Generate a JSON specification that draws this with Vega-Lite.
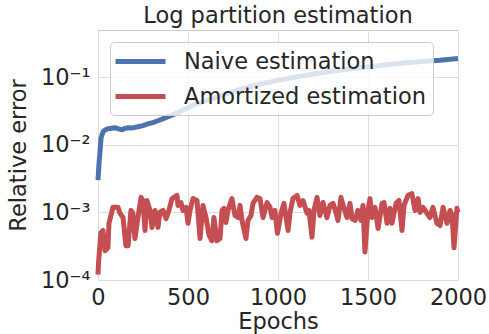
{
  "$schema": "https://vega.github.io/schema/vega-lite/v6.json",
  "width": 360,
  "height": 250,
  "autosize": {"type": "none"},
  "padding": {"left": 98, "top": 30, "right": 31, "bottom": 54},
  "background": "white",
  "title": {"text": "Log partition estimation", "fontSize": 22.5, "fontWeight": "normal", "color": "#262626", "font": "DejaVu Sans", "offset": 3},
  "datasets": {
    "naive": [
      {"epoch": 0, "value": 0.003}, {"epoch": 5, "value": 0.005}, {"epoch": 11, "value": 0.0079}, {"epoch": 17, "value": 0.0127},
      {"epoch": 28, "value": 0.0156}, {"epoch": 40, "value": 0.0166}, {"epoch": 55, "value": 0.0173}, {"epoch": 75, "value": 0.0176},
      {"epoch": 94, "value": 0.0179}, {"epoch": 115, "value": 0.0172}, {"epoch": 133, "value": 0.0167}, {"epoch": 150, "value": 0.0175},
      {"epoch": 167, "value": 0.0179}, {"epoch": 190, "value": 0.0178}, {"epoch": 222, "value": 0.0185}, {"epoch": 250, "value": 0.0192},
      {"epoch": 278, "value": 0.0205}, {"epoch": 305, "value": 0.0213}, {"epoch": 333, "value": 0.0227}, {"epoch": 360, "value": 0.0242},
      {"epoch": 389, "value": 0.026}, {"epoch": 444, "value": 0.03}, {"epoch": 528, "value": 0.0385}, {"epoch": 600, "value": 0.045},
      {"epoch": 717, "value": 0.057}, {"epoch": 800, "value": 0.067}, {"epoch": 900, "value": 0.079}, {"epoch": 1000, "value": 0.09},
      {"epoch": 1122, "value": 0.103}, {"epoch": 1178, "value": 0.11}, {"epoch": 1300, "value": 0.123}, {"epoch": 1400, "value": 0.133},
      {"epoch": 1494, "value": 0.142}, {"epoch": 1600, "value": 0.153}, {"epoch": 1700, "value": 0.163}, {"epoch": 1800, "value": 0.171},
      {"epoch": 1900, "value": 0.179}, {"epoch": 2000, "value": 0.19}
    ],
    "amortized": [
      {"epoch": 0, "value": 0.00012}, {"epoch": 3, "value": 0.00018}, {"epoch": 16, "value": 0.0005}, {"epoch": 28, "value": 0.00054},
      {"epoch": 39, "value": 0.00027}, {"epoch": 55, "value": 0.0003}, {"epoch": 61, "value": 0.00069}, {"epoch": 83, "value": 0.00119},
      {"epoch": 111, "value": 0.00119}, {"epoch": 122, "value": 0.00097}, {"epoch": 139, "value": 0.00084}, {"epoch": 155, "value": 0.00032},
      {"epoch": 167, "value": 0.00032}, {"epoch": 183, "value": 0.00107}, {"epoch": 194, "value": 0.00097}, {"epoch": 205, "value": 0.00041},
      {"epoch": 222, "value": 0.00084}, {"epoch": 239, "value": 0.00167}, {"epoch": 250, "value": 0.0015}, {"epoch": 261, "value": 0.00054},
      {"epoch": 272, "value": 0.0015}, {"epoch": 289, "value": 0.00107}, {"epoch": 300, "value": 0.0006}, {"epoch": 317, "value": 0.00107},
      {"epoch": 333, "value": 0.0006}, {"epoch": 344, "value": 0.001}, {"epoch": 361, "value": 0.00107}, {"epoch": 378, "value": 0.00081},
      {"epoch": 394, "value": 0.00107}, {"epoch": 411, "value": 0.0016}, {"epoch": 439, "value": 0.00178}, {"epoch": 444, "value": 0.00127},
      {"epoch": 461, "value": 0.0014}, {"epoch": 472, "value": 0.00107}, {"epoch": 489, "value": 0.00119}, {"epoch": 500, "value": 0.00069},
      {"epoch": 511, "value": 0.00107}, {"epoch": 528, "value": 0.0016}, {"epoch": 550, "value": 0.0015}, {"epoch": 567, "value": 0.00041},
      {"epoch": 583, "value": 0.00127}, {"epoch": 600, "value": 0.00084}, {"epoch": 617, "value": 0.00046}, {"epoch": 633, "value": 0.00038},
      {"epoch": 644, "value": 0.00084}, {"epoch": 661, "value": 0.00038}, {"epoch": 678, "value": 0.00041}, {"epoch": 689, "value": 0.00107},
      {"epoch": 700, "value": 0.00115}, {"epoch": 711, "value": 0.00071}, {"epoch": 722, "value": 0.00107}, {"epoch": 744, "value": 0.0016},
      {"epoch": 761, "value": 0.0009}, {"epoch": 778, "value": 0.00084}, {"epoch": 789, "value": 0.00127}, {"epoch": 800, "value": 0.00076},
      {"epoch": 822, "value": 0.00041}, {"epoch": 833, "value": 0.00076}, {"epoch": 850, "value": 0.0009}, {"epoch": 861, "value": 0.00136},
      {"epoch": 883, "value": 0.00167}, {"epoch": 900, "value": 0.0016}, {"epoch": 917, "value": 0.00084}, {"epoch": 939, "value": 0.0014},
      {"epoch": 956, "value": 0.00119}, {"epoch": 967, "value": 0.00084}, {"epoch": 983, "value": 0.00107}, {"epoch": 997, "value": 0.00049},
      {"epoch": 1017, "value": 0.00097}, {"epoch": 1033, "value": 0.00136}, {"epoch": 1056, "value": 0.00054}, {"epoch": 1067, "value": 0.001},
      {"epoch": 1083, "value": 0.0016}, {"epoch": 1106, "value": 0.00178}, {"epoch": 1122, "value": 0.00127}, {"epoch": 1139, "value": 0.0015},
      {"epoch": 1161, "value": 0.00097}, {"epoch": 1172, "value": 0.00107}, {"epoch": 1189, "value": 0.00043}, {"epoch": 1200, "value": 0.00107},
      {"epoch": 1217, "value": 0.00167}, {"epoch": 1233, "value": 0.0009}, {"epoch": 1250, "value": 0.0014}, {"epoch": 1272, "value": 0.00084},
      {"epoch": 1289, "value": 0.00127}, {"epoch": 1306, "value": 0.00136}, {"epoch": 1322, "value": 0.001}, {"epoch": 1333, "value": 0.00076},
      {"epoch": 1350, "value": 0.00167}, {"epoch": 1367, "value": 0.00115}, {"epoch": 1383, "value": 0.00084}, {"epoch": 1400, "value": 0.00136},
      {"epoch": 1411, "value": 0.00081}, {"epoch": 1428, "value": 0.00076}, {"epoch": 1444, "value": 0.00107}, {"epoch": 1461, "value": 0.00076},
      {"epoch": 1472, "value": 0.00127}, {"epoch": 1483, "value": 0.00026}, {"epoch": 1500, "value": 0.00107}, {"epoch": 1511, "value": 0.0016},
      {"epoch": 1522, "value": 0.00084}, {"epoch": 1539, "value": 0.00119}, {"epoch": 1556, "value": 0.00058}, {"epoch": 1578, "value": 0.00136},
      {"epoch": 1589, "value": 0.0014}, {"epoch": 1606, "value": 0.00069}, {"epoch": 1622, "value": 0.00115}, {"epoch": 1633, "value": 0.00069},
      {"epoch": 1656, "value": 0.00136}, {"epoch": 1672, "value": 0.0015}, {"epoch": 1689, "value": 0.00054}, {"epoch": 1700, "value": 0.00127},
      {"epoch": 1722, "value": 0.00178}, {"epoch": 1744, "value": 0.0019}, {"epoch": 1761, "value": 0.00107}, {"epoch": 1778, "value": 0.0016},
      {"epoch": 1789, "value": 0.001}, {"epoch": 1806, "value": 0.00119}, {"epoch": 1828, "value": 0.00097}, {"epoch": 1844, "value": 0.00084},
      {"epoch": 1861, "value": 0.00119}, {"epoch": 1883, "value": 0.00069}, {"epoch": 1900, "value": 0.00064}, {"epoch": 1917, "value": 0.00119},
      {"epoch": 1939, "value": 0.00069}, {"epoch": 1956, "value": 0.00107}, {"epoch": 1967, "value": 0.0009}, {"epoch": 1978, "value": 0.0003},
      {"epoch": 1994, "value": 0.00115}, {"epoch": 2000, "value": 0.001}
    ]
  },
  "layer": [
    {
      "data": {"name": "naive"},
      "mark": {"type": "line", "strokeWidth": 5, "strokeJoin": "round", "strokeCap": "butt"},
      "encoding": {
        "x": {"field": "epoch", "type": "quantitative"},
        "y": {"field": "value", "type": "quantitative"},
        "color": {"datum": "Naive estimation"}
      }
    },
    {
      "data": {"name": "amortized"},
      "mark": {"type": "line", "strokeWidth": 5, "strokeJoin": "round", "strokeCap": "butt"},
      "encoding": {
        "x": {"field": "epoch", "type": "quantitative"},
        "y": {"field": "value", "type": "quantitative"},
        "color": {"datum": "Amortized estimation"}
      }
    }
  ],
  "resolve": {"scale": {"x": "shared", "y": "shared", "color": "shared"}},
  "encoding": {
    "x": {
      "field": "epoch", "type": "quantitative", "title": "Epochs",
      "scale": {"domain": [0, 2000], "nice": false, "zero": false},
      "axis": {"values": [0, 500, 1000, 1500, 2000], "format": "d", "labelPadding": 6, "titlePadding": 2, "labelFlush": false}
    },
    "y": {
      "field": "value", "type": "quantitative", "title": "Relative error",
      "scale": {"type": "log", "domain": [0.0001, 0.5], "nice": false},
      "axis": {
        "values": [0.0001, 0.001, 0.01, 0.1],
        "labelExpr": "datum.value < 0.0005 ? '10⁻⁴' : datum.value < 0.005 ? '10⁻³' : datum.value < 0.05 ? '10⁻²' : '10⁻¹'",
        "labelPadding": 8, "titlePadding": 10, "labelFlush": false
      }
    },
    "color": {
      "type": "nominal",
      "scale": {"domain": ["Naive estimation", "Amortized estimation"], "range": ["#4C72B0", "#C44E52"]},
      "legend": {
        "title": null, "orient": "top-left", "offset": 12,
        "fillColor": "rgba(255,255,255,0.8)", "strokeColor": "#cccccc", "cornerRadius": 4,
        "padding": 7, "symbolType": "M-2.5,0H2.5", "symbolSize": 400, "symbolStrokeWidth": 5, "symbolOffset": 11,
        "labelFontSize": 22.5, "labelColor": "#262626", "labelOffset": 31, "rowPadding": 11,
        "labelFont": "DejaVu Sans", "labelLimit": 400
      }
    }
  },
  "config": {
    "font": "DejaVu Sans",
    "view": {"stroke": "#cccccc", "strokeWidth": 1},
    "axis": {
      "domain": false, "ticks": false, "grid": true, "gridColor": "#dddddd", "gridWidth": 1,
      "labelFontSize": 22.5, "labelColor": "#262626", "titleFontSize": 22.5, "titleColor": "#262626",
      "titleFontWeight": "normal", "labelFont": "DejaVu Sans", "titleFont": "DejaVu Sans"
    }
  }
}
